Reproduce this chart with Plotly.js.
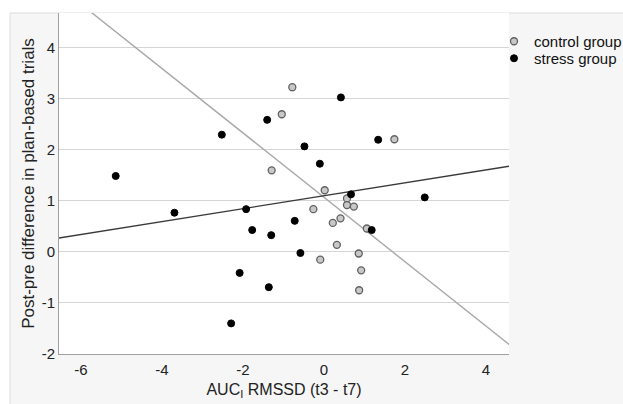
<!DOCTYPE html>
<html>
<head>
<meta charset="utf-8">
<script src="https://cdn.plot.ly/plotly-3.0.1.min.js"></script>
<style>html,body{margin:0;padding:0;background:#fff;}#chart{width:623px;height:404px;}</style>
</head>
<body>
<div id="chart"></div>
<script>
// Data
const controlX = [-1.29, -1.04, -0.78, -0.26, -0.09, 0.02, 0.22, 0.32, 0.41, 0.57, 0.57, 0.74, 0.86, 0.87, 0.92, 1.06, 1.74];
const controlY = [1.60, 2.70, 3.23, 0.84, -0.15, 1.21, 0.57, 0.14, 0.66, 1.05, 0.92, 0.89, -0.03, -0.75, -0.36, 0.46, 2.21];
const stressX = [-5.14, -3.69, -2.52, -2.29, -2.08, -1.92, -1.77, -1.40, -1.36, -1.30, -0.72, -0.58, -0.48, -0.10, 0.42, 0.67, 1.18, 1.34, 2.49];
const stressY = [1.49, 0.77, 2.30, -1.40, -0.41, 0.84, 0.43, 2.59, -0.69, 0.33, 0.61, -0.02, 2.07, 1.73, 3.03, 1.13, 0.43, 2.20, 1.07];
const groupNames = ["control group", "stress group"];
const xTicks = [-6, -4, -2, 0, 2, 4];
const yTicks = [-2, -1, 0, 1, 2, 3, 4];

const xRange = [-6.54, 4.57];
const yRange = [-2, 4.685];

function ols(xs, ys) {
  const n = xs.length;
  const mx = xs.reduce((a, b) => a + b, 0) / n;
  const my = ys.reduce((a, b) => a + b, 0) / n;
  let sxy = 0, sxx = 0;
  for (let i = 0; i < n; i++) { sxy += (xs[i] - mx) * (ys[i] - my); sxx += (xs[i] - mx) ** 2; }
  const b = sxy / sxx;
  return { a: my - b * mx, b: b };
}
const fitC = ols(controlX, controlY);
const fitS = ols(stressX, stressY);
const lineX = [xRange[0] - 1, xRange[1] + 1];

const font = "Liberation Sans, Arial, sans-serif";

const traces = [
  {
    x: lineX, y: lineX.map(v => fitC.a + fitC.b * v), mode: "lines",
    line: { color: "#a8a8a8", width: 1.4 }, showlegend: false, hoverinfo: "skip"
  },
  {
    x: lineX, y: lineX.map(v => fitS.a + fitS.b * v), mode: "lines",
    line: { color: "#3a3a3a", width: 1.4 }, showlegend: false, hoverinfo: "skip"
  },
  {
    x: controlX, y: controlY, mode: "markers", name: groupNames[0], legend: "legend",
    marker: { size: 7, color: "#c8c8c8", line: { color: "#606060", width: 1.3 } }, cliponaxis: false
  },
  {
    x: stressX, y: stressY, mode: "markers", name: groupNames[1], legend: "legend2",
    marker: { size: 7, color: "#000000", line: { color: "#000000", width: 1 } }, cliponaxis: false
  }
];

const legendCommon = {
  font: { family: font, size: 15, color: "#111" },
  bgcolor: "rgba(0,0,0,0)", borderwidth: 0,
  xanchor: "left", yanchor: "middle", x: 494 / 623, xref: "container", yref: "container",
  itemwidth: 30
};

const layout = {
  width: 623, height: 404,
  margin: { l: 59, r: 114, t: 13, b: 50, pad: 0, autoexpand: false },
  paper_bgcolor: "#ffffff",
  plot_bgcolor: "rgba(0,0,0,0)",
  font: { family: font, size: 15, color: "#222" },
  showlegend: true,
  legend: Object.assign({}, legendCommon, { y: 1 - 41.5 / 404 }),
  legend2: Object.assign({}, legendCommon, { y: 1 - 58.5 / 404 }),
  xaxis: {
    range: xRange, tickvals: xTicks, ticktext: xTicks.map(String),
    showgrid: false, zeroline: false, showline: true, linecolor: "#a0a0a0", linewidth: 1,
    ticks: "", ticklabelstandoff: 2, automargin: false,
    tickfont: { family: font, size: 15, color: "#222" },
    title: { text: "AUC<sub>I</sub> RMSSD (t3 - t7)", font: { family: font, size: 16, color: "#222" }, standoff: 6 }
  },
  yaxis: {
    range: yRange, tickvals: yTicks, ticktext: yTicks.map(String),
    showgrid: true, gridcolor: "#d6d6d6", gridwidth: 1,
    zeroline: false, showline: true, linecolor: "#a0a0a0", linewidth: 1,
    ticks: "", ticklabelstandoff: 0, automargin: false,
    tickfont: { family: font, size: 15, color: "#222" },
    title: { text: "Post-pre difference in plan-based trials", font: { family: font, size: 17, color: "#222" }, standoff: 2 }
  },
  shapes: [
    {
      type: "rect", xref: "paper", yref: "paper", layer: "below",
      x0: (10 - 59) / 450, x1: (623 - 59) / 450 + 0.01, y0: -50 / 341.5 - 0.01, y1: 1,
      fillcolor: "#f6f6f6", line: { color: "#dcdcdc", width: 1 }
    },
    {
      type: "rect", xref: "paper", yref: "paper", layer: "below",
      x0: 0, x1: 1, y0: 0, y1: 1, fillcolor: "#ffffff", line: { width: 0 }
    }
  ]
};

Plotly.newPlot("chart", traces, layout, { staticPlot: true, displayModeBar: false });
</script>
</body>
</html>
